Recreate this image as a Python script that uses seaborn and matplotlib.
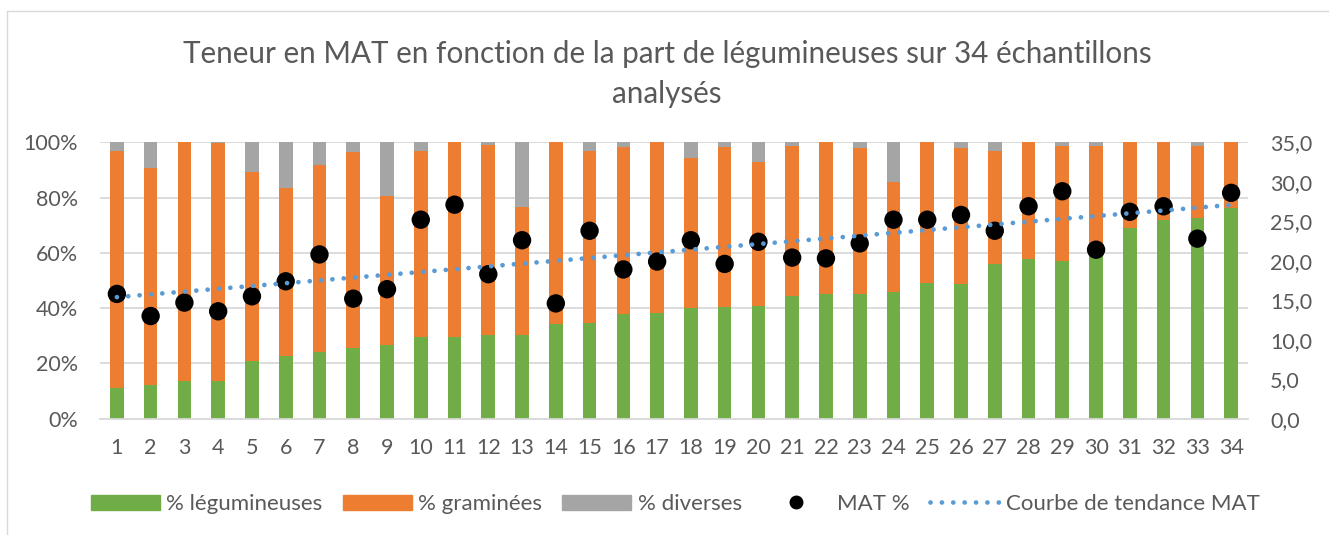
import numpy as np
import pandas as pd
import matplotlib
matplotlib.use("Agg")
import matplotlib.pyplot as plt
import seaborn as sns
from matplotlib.patches import Patch
from matplotlib.lines import Line2D
from matplotlib.ticker import FuncFormatter

# data
echantillons = [str(i) for i in range(1, 35)]
legumineuses = [11.0, 12.2, 13.7, 13.8, 20.9, 22.6, 24.0, 25.7, 26.7, 29.7,
                29.4, 30.2, 30.2, 34.2, 34.5, 37.8, 38.1, 40.2, 40.4, 40.9,
                44.5, 45.1, 45.0, 45.7, 49.0, 48.6, 55.9, 57.8, 57.1, 59.8,
                68.9, 71.8, 72.5, 76.3]
graminees = [85.8, 78.6, 86.3, 85.9, 68.5, 60.8, 67.7, 70.7, 53.8, 67.2,
             70.6, 68.8, 46.3, 65.8, 62.4, 60.6, 61.9, 54.0, 57.8, 51.9,
             54.1, 54.9, 52.8, 40.0, 51.0, 49.2, 41.0, 42.2, 41.7, 39.0,
             31.1, 28.2, 26.3, 23.7]
diverses = [3.2, 9.2, 0.0, 0.3, 10.6, 16.6, 8.3, 3.6, 19.5, 3.1,
            0.0, 1.0, 23.5, 0.0, 3.1, 1.6, 0.0, 5.8, 1.8, 7.2,
            1.4, 0.0, 2.2, 14.3, 0.0, 2.2, 3.1, 0.0, 1.2, 1.2,
            0.0, 0.0, 1.2, 0.0]
mat = [15.8, 13.0, 14.7, 13.6, 15.5, 17.4, 20.8, 15.2, 16.4, 25.2,
       27.1, 18.3, 22.6, 14.6, 23.8, 18.9, 19.9, 22.6, 19.6, 22.4,
       20.4, 20.3, 22.2, 25.2, 25.2, 25.8, 23.8, 26.9, 28.8, 21.4,
       26.2, 26.9, 22.8, 28.6]

GREEN = "#70AD47"
ORANGE = "#ED7D31"
GRAY = "#A5A5A5"
BLUE = "#5B9BD5"
TEXT = "#595959"
GRID = "#D9D9D9"

df = pd.DataFrame({"echantillon": echantillons, "leg": legumineuses,
                   "gram": graminees, "div": diverses, "mat": mat})
df["cum_gram"] = df["leg"] + df["gram"]
df["cum_div"] = df["cum_gram"] + df["div"]
df["pos"] = np.arange(len(df))

# linear trend, like the Excel trendline
coef = np.polyfit(np.arange(1, len(df) + 1), df["mat"], 1)
df["trend"] = np.polyval(coef, np.arange(1, len(df) + 1))

sns.set_theme(style="white")
plt.rcParams["font.family"] = ["Lato", "DejaVu Sans"]

W, H = 1329, 535
fig = plt.figure(figsize=(W / 100, H / 100), dpi=100)
ax = fig.add_axes([100 / W, 1 - 418.7 / H, 1148 / W, 276.4 / H])

# stacked bars drawn as overlapping cumulative bars
for col, c in [("cum_div", GRAY), ("cum_gram", ORANGE), ("leg", GREEN)]:
    sns.barplot(data=df, x="echantillon", y=col, order=echantillons, color=c,
                saturation=1, width=0.405, linewidth=0, ax=ax)

ax.set_ylim(0, 100)
ax.set_yticks(range(0, 101, 20))
ax.yaxis.set_major_formatter(FuncFormatter(lambda v, p: f"{v:.0f}%"))
ax.set_xlim(-0.5, len(df) - 0.5)
ax.set_axisbelow(True)
ax.yaxis.grid(True, color=GRID, lw=1.3)
ax.xaxis.grid(False)
for s in ["top", "left", "right"]:
    ax.spines[s].set_visible(False)
ax.spines["bottom"].set_color(GRID)
ax.spines["bottom"].set_linewidth(1.3)
ax.set_xlabel("")
ax.set_ylabel("")
ax.tick_params(axis="y", length=0, labelsize=15.5, colors=TEXT, pad=16)
ax.tick_params(axis="x", length=0, labelsize=15.5, colors=TEXT, pad=14)

ax2 = ax.twinx()
sns.scatterplot(data=df, x="pos", y="mat", color="black", s=175,
                edgecolor="none", ax=ax2, zorder=3)
sns.lineplot(data=df, x="pos", y="trend", color=BLUE, lw=3.4,
             linestyle=(0, (0.01, 2.4)), dash_capstyle="round", ax=ax2, zorder=4)
ax2.set_ylim(0, 35)
ax2.set_yticks(range(0, 36, 5))
ax2.yaxis.set_major_formatter(FuncFormatter(lambda v, p: f"{v:.1f}".replace(".", ",")))
for s in ax2.spines.values():
    s.set_visible(False)
ax2.set_xlabel("")
ax2.set_ylabel("")
ax2.tick_params(axis="y", length=0, labelsize=15.5, colors=TEXT, pad=16)
ax.set_xlim(-0.5, len(df) - 0.5)

fig.text(0.502, 1 - 74 / H,
         "Teneur en MAT en fonction de la part de légumineuses sur 34 échantillons\nanalysés",
         ha="center", va="center", fontsize=21.3, color=TEXT, linespacing=1.52)

handles = [Patch(color=GREEN), Patch(color=ORANGE), Patch(color=GRAY),
           Line2D([], [], marker="o", color="black", ls="none", markersize=9),
           Line2D([], [], color=BLUE, lw=3.4, linestyle=(0, (0.01, 2.4)),
                  dash_capstyle="round")]
labels = ["% légumineuses", "% graminées", "% diverses", "MAT %",
          "Courbe de tendance MAT"]
fig.legend(handles, labels, loc="center", bbox_to_anchor=(0.508, 1 - 504 / H),
           ncol=5, frameon=False, fontsize=16, handlelength=3.1,
           handleheight=0.65, handletextpad=0.3, columnspacing=0.9,
           labelcolor=TEXT)

# outer chart frame (top and left edges visible)
fig.add_artist(Line2D([7 / W, 1], [1 - 11 / H] * 2, transform=fig.transFigure,
                      color=GRID, lw=1))
fig.add_artist(Line2D([7 / W] * 2, [0, 1 - 11 / H], transform=fig.transFigure,
                      color=GRID, lw=1))

fig.savefig("out.png", dpi=100)
